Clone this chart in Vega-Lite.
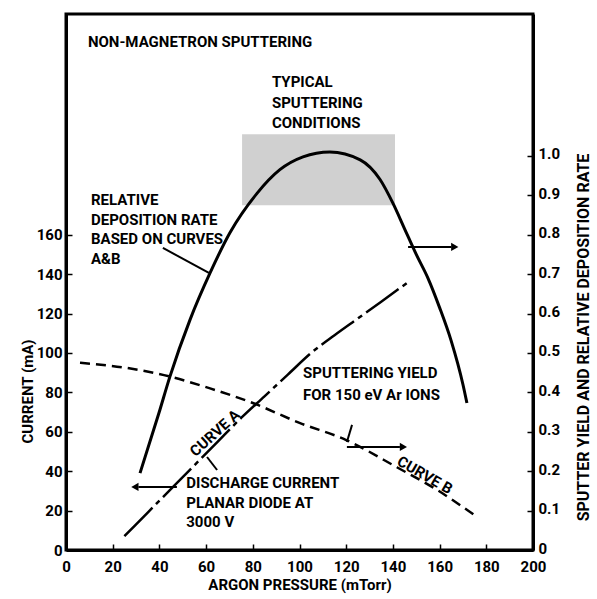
{
  "$schema": "https://vega.github.io/schema/vega-lite/v6.json",
  "width": 467,
  "height": 536,
  "autosize": {"type": "none"},
  "padding": {"left": 66, "top": 14, "right": 64, "bottom": 49},
  "background": "white",
  "config": {
    "font": "Roboto",
    "view": {"stroke": "black", "strokeWidth": 3},
    "axis": {
      "domainColor": "black", "domainWidth": 3, "tickColor": "black", "tickWidth": 1.5,
      "tickSize": -6, "labelFontSize": 15, "labelFontWeight": "bold", "labelColor": "black",
      "titleColor": "black", "titleFontSize": 15, "titleFontWeight": "bold", "grid": false
    },
    "text": {"fontSize": 15, "fontWeight": "bold", "color": "black"}
  },
  "datasets": {
    "curveA": [
      {"p": 25, "current": 7}, {"p": 35, "current": 19}, {"p": 45, "current": 31},
      {"p": 55, "current": 43}, {"p": 65, "current": 55}, {"p": 75, "current": 67},
      {"p": 85, "current": 78}, {"p": 95, "current": 89}, {"p": 105, "current": 100},
      {"p": 115, "current": 109}, {"p": 125, "current": 117.5}, {"p": 135, "current": 126},
      {"p": 146, "current": 135.5}
    ],
    "curveB": [
      {"p": 6, "y": 0.475}, {"p": 26, "y": 0.462}, {"p": 44.5, "y": 0.44},
      {"p": 61.7, "y": 0.41}, {"p": 80, "y": 0.373}, {"p": 100, "y": 0.3225},
      {"p": 120, "y": 0.279}, {"p": 141.7, "y": 0.21}, {"p": 158.9, "y": 0.1525},
      {"p": 176, "y": 0.084}
    ],
    "rate": [
      {"p": 31.7, "y": 0.195}, {"p": 39.8, "y": 0.3475}, {"p": 44.5, "y": 0.44},
      {"p": 53.1, "y": 0.584}, {"p": 61.7, "y": 0.703}, {"p": 70.2, "y": 0.805},
      {"p": 81.8, "y": 0.905}, {"p": 91.6, "y": 0.965}, {"p": 101.5, "y": 0.9975},
      {"p": 113, "y": 1.01}, {"p": 126, "y": 0.99}, {"p": 134.5, "y": 0.94},
      {"p": 140, "y": 0.88}, {"p": 145, "y": 0.815}, {"p": 150, "y": 0.75},
      {"p": 155, "y": 0.69}, {"p": 160, "y": 0.615}, {"p": 165, "y": 0.53},
      {"p": 170, "y": 0.42}, {"p": 171.7, "y": 0.373}
    ],
    "shade": [{"p1": 75.4, "p2": 140.9, "r1": 0.875, "r2": 1.055}],
    "labels": [
      {"p": 9.4, "mA": 257.9, "text": "NON-MAGNETRON SPUTTERING"},
      {"p": 88.2, "mA": 237.6, "text": "TYPICAL"},
      {"p": 88.2, "mA": 226.9, "text": "SPUTTERING"},
      {"p": 88.2, "mA": 216.8, "text": "CONDITIONS"},
      {"p": 10.7, "mA": 177.7, "text": "RELATIVE"},
      {"p": 10.7, "mA": 167.5, "text": "DEPOSITION RATE"},
      {"p": 10.7, "mA": 157.9, "text": "BASED ON CURVES"},
      {"p": 10.7, "mA": 147.7, "text": "A&B"},
      {"p": 101.5, "mA": 89.8, "text": "SPUTTERING YIELD"},
      {"p": 101.5, "mA": 78.7, "text": "FOR 150 eV Ar IONS"},
      {"p": 51.5, "mA": 34, "text": "DISCHARGE CURRENT"},
      {"p": 51.5, "mA": 24, "text": "PLANAR DIODE AT"},
      {"p": 51.5, "mA": 14.2, "text": "3000 V"}
    ],
    "labelA": [{"p": 63.8, "mA": 59.4, "text": "CURVE A"}],
    "labelB": [{"p": 153.7, "mA": 38, "text": "CURVE B"}],
    "segments": [
      {"p": 41.5, "mA": 153.3, "p2": 61.2, "mA2": 140.6},
      {"p": 146.5, "mA": 153.8, "p2": 165, "mA2": 153.8},
      {"p": 122.5, "mA": 63.5, "p2": 120.3, "mA2": 54.8},
      {"p": 120.3, "mA": 52.3, "p2": 143, "mA2": 52.3},
      {"p": 60.4, "mA": 47.2, "p2": 64.7, "mA2": 40.6},
      {"p": 47.5, "mA": 32, "p2": 31, "mA2": 32}
    ],
    "heads": [
      {"p": 166.5, "mA": 153.8, "dir": "right"},
      {"p": 144.5, "mA": 52.3, "dir": "right"},
      {"p": 29.5, "mA": 32, "dir": "left"}
    ]
  },
  "layer": [
    {
      "data": {"name": "shade"},
      "mark": {"type": "rect", "fill": "#c8c8c8", "opacity": 0.85},
      "encoding": {
        "x": {"field": "p1", "type": "quantitative", "scale": {"domain": [0, 200], "nice": false}},
        "x2": {"field": "p2"},
        "y": {"field": "r1", "type": "quantitative", "scale": {"domain": [0, 1.36], "nice": false}, "axis": null},
        "y2": {"field": "r2"}
      }
    },
    {
      "data": {"name": "curveA"},
      "mark": {"type": "line", "color": "black", "strokeWidth": 2.5, "strokeDash": [40, 5, 5, 5], "interpolate": "monotone"},
      "encoding": {
        "x": {"field": "p", "type": "quantitative", "scale": {"domain": [0, 200], "nice": false},
          "axis": {"title": "ARGON PRESSURE (mTorr)", "values": [0,10,20,30,40,50,60,70,80,90,100,110,120,130,140,150,160,170,180,190,200],
            "labelExpr": "datum.value % 20 == 0 ? datum.label : ''", "labelPadding": 15, "titlePadding": 3, "labelFlush": false}},
        "y": {"field": "current", "type": "quantitative", "scale": {"domain": [0, 272], "nice": false},
          "axis": {"title": "CURRENT (mA)", "orient": "left", "values": [0,20,40,60,80,100,120,140,160], "labelPadding": 10,
            "titleX": -39, "titleY": 377, "titleAngle": 270, "titleAlign": "center", "titleBaseline": "middle"}}
      }
    },
    {
      "data": {"name": "curveB"},
      "mark": {"type": "line", "color": "black", "strokeWidth": 2.5, "strokeDash": [10, 6], "interpolate": "monotone"},
      "encoding": {
        "x": {"field": "p", "type": "quantitative"},
        "y": {"field": "y", "type": "quantitative", "scale": {"domain": [0, 1.36], "nice": false},
          "axis": {"title": "SPUTTER YIELD AND RELATIVE DEPOSITION RATE", "orient": "right",
            "values": [0,0.1,0.2,0.3,0.4,0.5,0.6,0.7,0.8,0.9,1.0],
            "labelExpr": "datum.value == 0 ? '0' : format(datum.value, '.1f')", "labelPadding": 11, "labelOffset": -2,
            "titleFontSize": 16, "titleX": 50, "titleY": 323, "titleAngle": 270, "titleAlign": "center", "titleBaseline": "middle"}}
      }
    },
    {
      "data": {"name": "rate"},
      "mark": {"type": "line", "color": "black", "strokeWidth": 3, "interpolate": "monotone"},
      "encoding": {
        "x": {"field": "p", "type": "quantitative"},
        "y": {"field": "y", "type": "quantitative", "scale": {"domain": [0, 1.36], "nice": false}, "axis": null}
      }
    },
    {
      "data": {"name": "segments"},
      "mark": {"type": "rule", "color": "black", "strokeWidth": 2},
      "encoding": {
        "x": {"field": "p", "type": "quantitative"},
        "x2": {"field": "p2"},
        "y": {"field": "mA", "type": "quantitative", "scale": {"domain": [0, 272], "nice": false}, "axis": null},
        "y2": {"field": "mA2"}
      }
    },
    {
      "data": {"name": "heads"},
      "mark": {"type": "point", "filled": true, "color": "black", "size": 70, "opacity": 1},
      "encoding": {
        "x": {"field": "p", "type": "quantitative"},
        "y": {"field": "mA", "type": "quantitative", "scale": {"domain": [0, 272], "nice": false}, "axis": null},
        "shape": {"field": "dir", "type": "nominal", "scale": {"domain": ["right", "left"], "range": ["triangle-right", "triangle-left"]}, "legend": null}
      }
    },
    {
      "data": {"name": "labels"},
      "mark": {"type": "text", "align": "left", "baseline": "middle"},
      "encoding": {
        "x": {"field": "p", "type": "quantitative"},
        "y": {"field": "mA", "type": "quantitative", "scale": {"domain": [0, 272], "nice": false}, "axis": null},
        "text": {"field": "text"}
      }
    },
    {
      "data": {"name": "labelA"},
      "mark": {"type": "text", "align": "center", "baseline": "middle", "angle": -42},
      "encoding": {
        "x": {"field": "p", "type": "quantitative"},
        "y": {"field": "mA", "type": "quantitative", "scale": {"domain": [0, 272], "nice": false}, "axis": null},
        "text": {"field": "text"}
      }
    },
    {
      "data": {"name": "labelB"},
      "mark": {"type": "text", "align": "center", "baseline": "middle", "angle": 30},
      "encoding": {
        "x": {"field": "p", "type": "quantitative"},
        "y": {"field": "mA", "type": "quantitative", "scale": {"domain": [0, 272], "nice": false}, "axis": null},
        "text": {"field": "text"}
      }
    }
  ],
  "resolve": {"scale": {"y": "independent"}}
}
